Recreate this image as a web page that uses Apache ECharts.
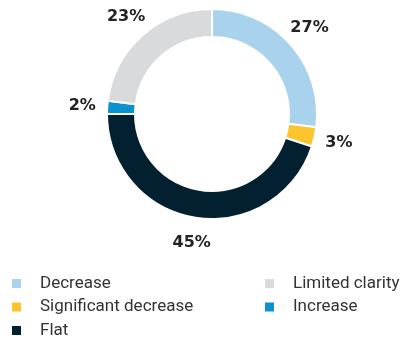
<!DOCTYPE html>
<html>
<head>
<meta charset="utf-8">
<script src="https://cdn.jsdelivr.net/npm/echarts@6/dist/echarts.min.js"></script>
<style>
html,body{margin:0;padding:0;background:#fff;}
#c{width:400px;height:342px;}
</style>
</head>
<body>
<div id="c"></div>
<script>
const categories = ['Decrease', 'Significant decrease', 'Flat', 'Increase', 'Limited clarity'];
const values = [27, 3, 45, 2, 23];
const colors = ['#a9d2ec', '#fcc42c', '#02202f', '#0b93cf', '#d9dadc'];
const legendCol1 = ['Decrease', 'Significant decrease', 'Flat'];
const legendCol2 = ['Limited clarity', 'Increase'];

const data = categories.map((n, i) => ({ name: n, value: values[i], itemStyle: { color: colors[i] } }));
const labelData = categories.map((n, i) => ({ name: n, value: values[i] }));

const chart = echarts.init(document.getElementById('c'), null, { renderer: 'canvas' });
const legendBase = {
  orient: 'vertical',
  icon: 'rect',
  itemWidth: 11,
  itemHeight: 11,
  itemGap: 5.5,
  padding: 0,
  height: 70,
  selectedMode: false,
  textStyle: { fontFamily: 'Roboto', fontSize: 17, color: '#333', lineHeight: 18, padding: [0, 0, 0, 13] }
};
chart.setOption({
  animation: false,
  legend: [
    Object.assign({}, legendBase, { left: 10, top: 274.5, data: legendCol1 }),
    Object.assign({}, legendBase, { left: 263, top: 274.5, data: legendCol2 })
  ],
  series: [
    {
      type: 'pie',
      center: [212, 114],
      radius: [77, 105],
      startAngle: 90,
      clockwise: true,
      itemStyle: { borderColor: '#fff', borderWidth: 2 },
      label: { show: false },
      labelLine: { show: false },
      emphasis: { disabled: true },
      data: data
    },
    {
      type: 'pie',
      center: [212, 114],
      radius: [118, 136],
      startAngle: 90,
      clockwise: true,
      silent: true,
      itemStyle: { color: 'rgba(0,0,0,0)' },
      label: {
        show: true,
        position: 'inside',
        formatter: '{c}%',
        fontFamily: 'DejaVu Sans',
        fontWeight: 'bold',
        fontSize: 16,
        color: '#222'
      },
      labelLine: { show: false },
      emphasis: { disabled: true },
      data: labelData
    }
  ]
});
</script>
</body>
</html>
